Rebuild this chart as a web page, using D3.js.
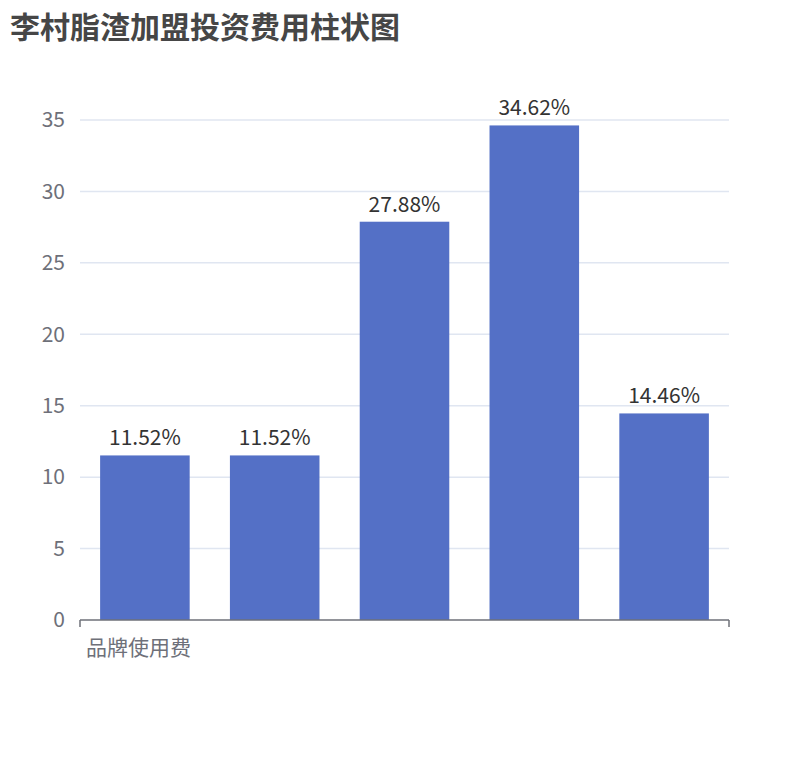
<!DOCTYPE html>
<html><head><meta charset="utf-8">
<script src="https://cdn.jsdelivr.net/npm/d3@7"></script>
<style>body{margin:0;background:#fff}</style></head>
<body><svg id="c" width="810" height="760"></svg>
<script>
const title = "李村脂渣加盟投资费用柱状图";
const categories = ["品牌使用费", "加盟保证金", "设备费用", "装修费用", "首批进货费"];
const values = [11.52, 11.52, 27.88, 34.62, 14.46];
const yTicks = [0, 5, 10, 15, 20, 25, 30, 35];

const svg = d3.select("#c");
const font = "'Noto Sans CJK SC','Noto Sans',sans-serif";
const L = 80, R = 729, T = 120, B = 620;
const x = d3.scaleBand().domain(categories).range([L, R]).paddingInner(0.31).paddingOuter(0.155);
const y = d3.scaleLinear().domain([0, 35]).range([B, T]);

svg.append("text").attr("x", 10).attr("y", 38).text(title)
  .attr("font-family", font).attr("font-size", 30).attr("font-weight", "bold").attr("fill", "#464646");

svg.selectAll(".g").data(yTicks.filter(d => d > 0)).enter().append("line")
  .attr("x1", L).attr("x2", R).attr("y1", d => y(d)).attr("y2", d => y(d))
  .attr("stroke", "#e0e6f1").attr("stroke-width", 1.5);
svg.selectAll(".yl").data(yTicks).enter().append("text")
  .attr("x", 65).attr("y", d => y(d)).attr("dy", "0.35em").attr("text-anchor", "end")
  .attr("font-family", font).attr("font-size", 21).attr("fill", "#6e7079").text(d => d);

svg.selectAll(".bar").data(values).enter().append("rect")
  .attr("x", (d, i) => x(categories[i])).attr("width", x.bandwidth())
  .attr("y", d => y(d)).attr("height", d => B - y(d)).attr("fill", "#5470c6");
svg.selectAll(".lab").data(values).enter().append("text")
  .attr("x", (d, i) => x(categories[i]) + x.bandwidth() / 2).attr("y", d => y(d) - 10)
  .attr("text-anchor", "middle").attr("font-family", font).attr("font-size", 21).attr("fill", "#333")
  .text(d => d.toFixed(2) + "%");

svg.append("line").attr("x1", L).attr("x2", R).attr("y1", B).attr("y2", B).attr("stroke", "#6e7079").attr("stroke-width", 1.5);
[L, R].forEach(px => svg.append("line").attr("x1", px).attr("x2", px).attr("y1", B).attr("y2", B + 7).attr("stroke", "#6e7079").attr("stroke-width", 1.5));
svg.append("text").attr("x", L + 6).attr("y", 655).text(categories[0])
  .attr("font-family", font).attr("font-size", 21).attr("fill", "#6e7079");
</script></body></html>
